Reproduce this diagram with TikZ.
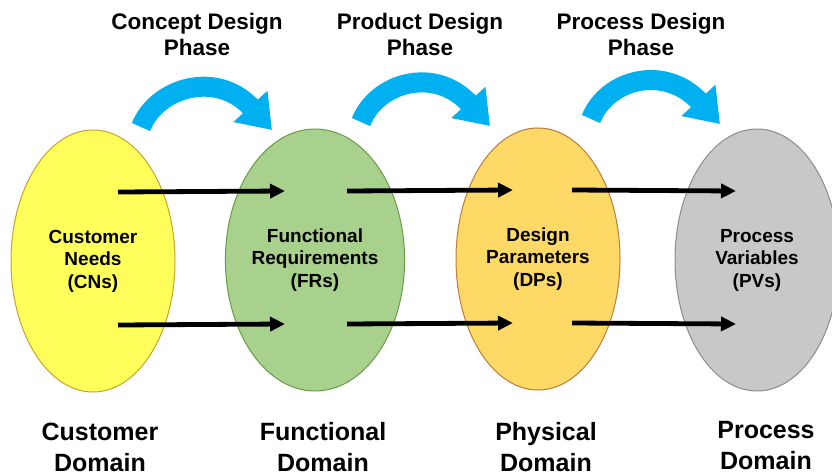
\documentclass[tikz,border=0pt]{standalone}
\usepackage{fontspec}
\setmainfont{Liberation Sans}
\usetikzlibrary{shapes.geometric,arrows.meta,calc}

\definecolor{needsfill}{HTML}{FFFF5C}
\definecolor{needsline}{HTML}{C9A12B}
\definecolor{funcfill}{HTML}{A9D18E}
\definecolor{funcline}{HTML}{6B9A48}
\definecolor{parfill}{HTML}{FFD966}
\definecolor{parline}{HTML}{BC7A3C}
\definecolor{varfill}{HTML}{C8C8C8}
\definecolor{varline}{HTML}{8C8C8C}
\definecolor{phaseblue}{HTML}{00B0F0}

\tikzset{
  domainbox/.style={ellipse, minimum width=164pt, minimum height=262pt,
    inner sep=0pt, line width=1pt, align=center,
    font=\bfseries\fontsize{19}{22.5}\selectfont},
  flow/.style={line width=4.8pt, -{Triangle[length=15pt,width=14pt]}},
  phase/.style={draw=phaseblue, line width=20pt,
    -{Triangle[length=32pt,width=44pt]}},
  phasetitle/.style={align=center, inner sep=0pt,
    font=\bfseries\fontsize{22.5}{26}\selectfont},
  domaintitle/.style={align=center, inner sep=0pt,
    font=\bfseries\fontsize{25}{31}\selectfont}
}

\begin{document}
\begin{tikzpicture}[x=1pt,y=-1pt]

\useasboundingbox (0,0) rectangle (832,476);

% The four domains
\node[domainbox, draw=needsline, fill=needsfill] (cn) at (93,261) {Customer\\Needs\\(CNs)};
\node[domainbox, draw=funcline, fill=funcfill] (fr) at (315,260) {Functional\\Requirements\\(FRs)};
\node[domainbox, draw=parline, fill=parfill] (dp) at (538,259) {Design\\Parameters\\(DPs)};
\node[domainbox, draw=varline, fill=varfill] (pv) at (757,260) {Process\\Variables\\(PVs)};

% Mapping arrows between neighbouring domains
\foreach \a/\b/\s/\e in {cn/fr/25/30, fr/dp/32/25, dp/pv/34/21} {
  \draw[flow] ([shift={(\s,-69)}]\a.center) -- ([shift={(-\e,-69)}]\b.center);
  \draw[flow] ([shift={(\s,64)}]\a.center) -- ([shift={(-\e,64)}]\b.center);
}

% Curved phase arrows above the domains
\foreach \a/\b/\i/\tx/\ty/\hx/\hy in {cn/fr/1/48/-134/-43/-130,
    fr/dp/2/46/-138/-48/-133, dp/pv/3/53/-140/-37/-136} {
  \coordinate (tail\i) at ([shift={(\tx,\ty)}]\a.center);
  \coordinate (head\i) at ([shift={(\hx,\hy)}]\b.center);
  \draw[phase] (tail\i) .. controls ($(tail\i)+(16,-40)$)
    and ($(head\i)+(-55,-60)$) .. (head\i);
}

% Phase labels
\node[phasetitle] (concept) at (197,34) {Concept Design\\Phase};
\node[phasetitle] (product) at (420,34) {Product Design\\Phase};
\node[phasetitle] (process) at (641,34) {Process Design\\Phase};

% Domain labels
\node[domaintitle] (custdom) at (100,447) {Customer\\Domain};
\node[domaintitle] (funcdom) at (323,447) {Functional\\Domain};
\node[domaintitle] (physdom) at (546,447) {Physical\\Domain};
\node[domaintitle] (procdom) at (766,446) {Process\\Domain};

\end{tikzpicture}
\end{document}
